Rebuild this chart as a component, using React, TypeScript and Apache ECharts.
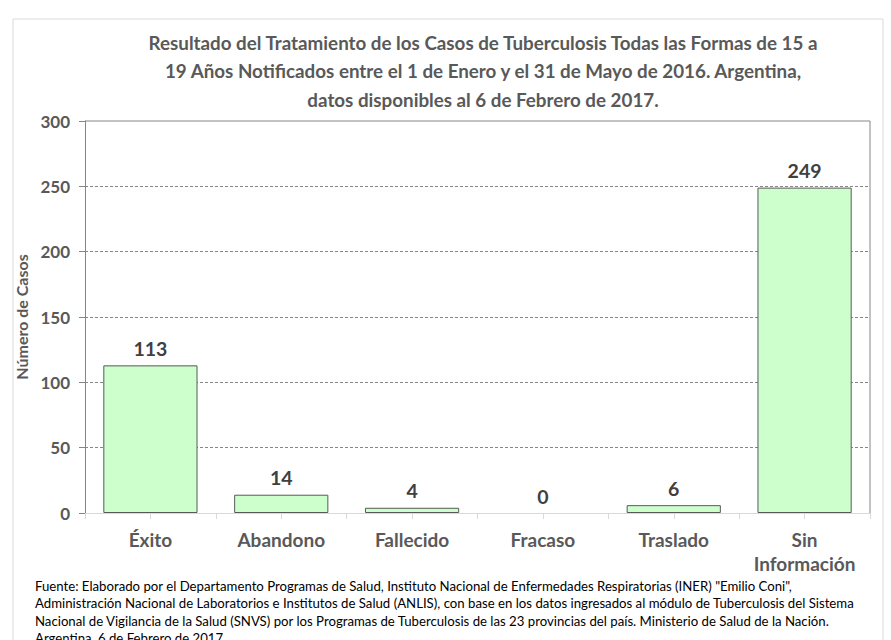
import React, { useEffect, useRef } from "react";
import * as echarts from "echarts";

const categories = ["Éxito", "Abandono", "Fallecido", "Fracaso", "Traslado", "Sin\nInformación"];
const casos = [113, 14, 4, 0, 6, 249];
const yTicks = { min: 0, max: 300, interval: 50 };

const titleText =
  "Resultado del Tratamiento de los Casos de Tuberculosis Todas las Formas de 15 a\n" +
  "19 Años Notificados entre el 1 de Enero y el 31 de Mayo de 2016. Argentina,\n" +
  "datos disponibles al 6 de Febrero de 2017.";

const footText =
  'Fuente: Elaborado por el Departamento Programas de Salud, Instituto Nacional de Enfermedades Respiratorias (INER) "Emilio Coni",\n' +
  "Administración Nacional de Laboratorios e Institutos de Salud (ANLIS), con base en los datos ingresados al módulo de Tuberculosis del Sistema\n" +
  "Nacional de Vigilancia de la Salud (SNVS) por los Programas de Tuberculosis de las 23 provincias del país. Ministerio de Salud de la Nación.\n" +
  "Argentina, 6 de Febrero de 2017.";

const FONT = "Lato, 'Noto Sans', sans-serif";

export default function App() {
  const ref = useRef<HTMLDivElement>(null);
  useEffect(() => {
    if (!ref.current) return;
    const chart = echarts.init(ref.current, null, { renderer: "svg" });
    const gridLeft = 85, gridTop = 121, gridRight = 870, gridBottom = 513;
    const barData = casos.map((v) => (v === 0 ? { value: v, itemStyle: { borderWidth: 0 } } : v));
    chart.setOption({
      animation: false,
      backgroundColor: "#ffffff",
      textStyle: { fontFamily: FONT },
      grid: { left: gridLeft, top: gridTop, width: gridRight - gridLeft, height: gridBottom - gridTop, containLabel: false },
      xAxis: [
        {
          type: "category",
          data: categories,
          axisLine: { show: true, lineStyle: { color: "#d9d9d9", width: 1 } },
          axisTick: { show: true, interval: 0, alignWithLabel: false, length: 6, lineStyle: { color: "#d9d9d9" } },
          axisLabel: {
            interval: 0,
            margin: 14,
            fontSize: 19,
            fontWeight: "bold",
            color: "#595959",
            fontFamily: FONT,
            lineHeight: 24,
          },
          splitLine: { show: false },
        },
        {
          type: "category",
          data: categories,
          position: "bottom",
          axisLine: { show: false },
          axisTick: { show: true, interval: 0, alignWithLabel: true, length: 6, lineStyle: { color: "#d9d9d9" } },
          axisLabel: { show: false },
          splitLine: { show: false },
        },
      ],
      yAxis: {
        type: "value",
        min: yTicks.min,
        max: yTicks.max,
        interval: yTicks.interval,
        name: "Número de Casos",
        nameLocation: "middle",
        nameGap: 52,
        nameTextStyle: { fontSize: 16, fontWeight: "bold", color: "#595959", fontFamily: FONT },
        axisLine: { show: true, lineStyle: { color: "#868686", width: 1 } },
        axisTick: { show: true, length: 6, lineStyle: { color: "#868686" } },
        axisLabel: { margin: 15, fontSize: 17, fontWeight: "bold", color: "#595959", fontFamily: FONT },
        splitLine: { show: true, showMinLine: false, showMaxLine: false, lineStyle: { color: "#868686", type: [3, 2], width: 1 } },
      },
      series: [
        {
          type: "bar",
          data: barData,
          barWidth: "72%",
          itemStyle: { color: "#ccffcc", borderColor: "#595959", borderWidth: 1 },
          label: {
            show: true,
            position: "top",
            distance: 7,
            fontSize: 19.5,
            fontWeight: "bold",
            color: "#404040",
            fontFamily: FONT,
          },
        },
      ],
      graphic: [
        {
          type: "rect",
          shape: { x: 13, y: 19, width: 870, height: 640 },
          style: { fill: "none", stroke: "#d9d9d9", lineWidth: 1 },
          silent: true,
          z: -1,
        },
        {
          type: "polyline",
          shape: { points: [[gridLeft, gridTop], [gridRight, gridTop], [gridRight, gridBottom]] },
          style: { fill: "none", stroke: "#868686", lineWidth: 1 },
          silent: true,
          z: 10,
        },
        {
          type: "text",
          x: 483,
          y: 28,
          style: {
            text: titleText,
            textAlign: "center",
            textVerticalAlign: "top",
            fontSize: 18.8,
            fontWeight: "bold",
            fill: "#595959",
            fontFamily: FONT,
            lineHeight: 28.5,
          },
        },
        {
          type: "text",
          x: 35,
          y: 577,
          style: {
            text: footText,
            textAlign: "left",
            textVerticalAlign: "top",
            fontSize: 13.2,
            fill: "#000000",
            fontFamily: FONT,
            lineHeight: 17.5,
          },
        },
      ],
    });
    return () => chart.dispose();
  }, []);
  return <div ref={ref} style={{ position: "fixed", left: 0, top: 0, width: 891, height: 640 }} />;
}
